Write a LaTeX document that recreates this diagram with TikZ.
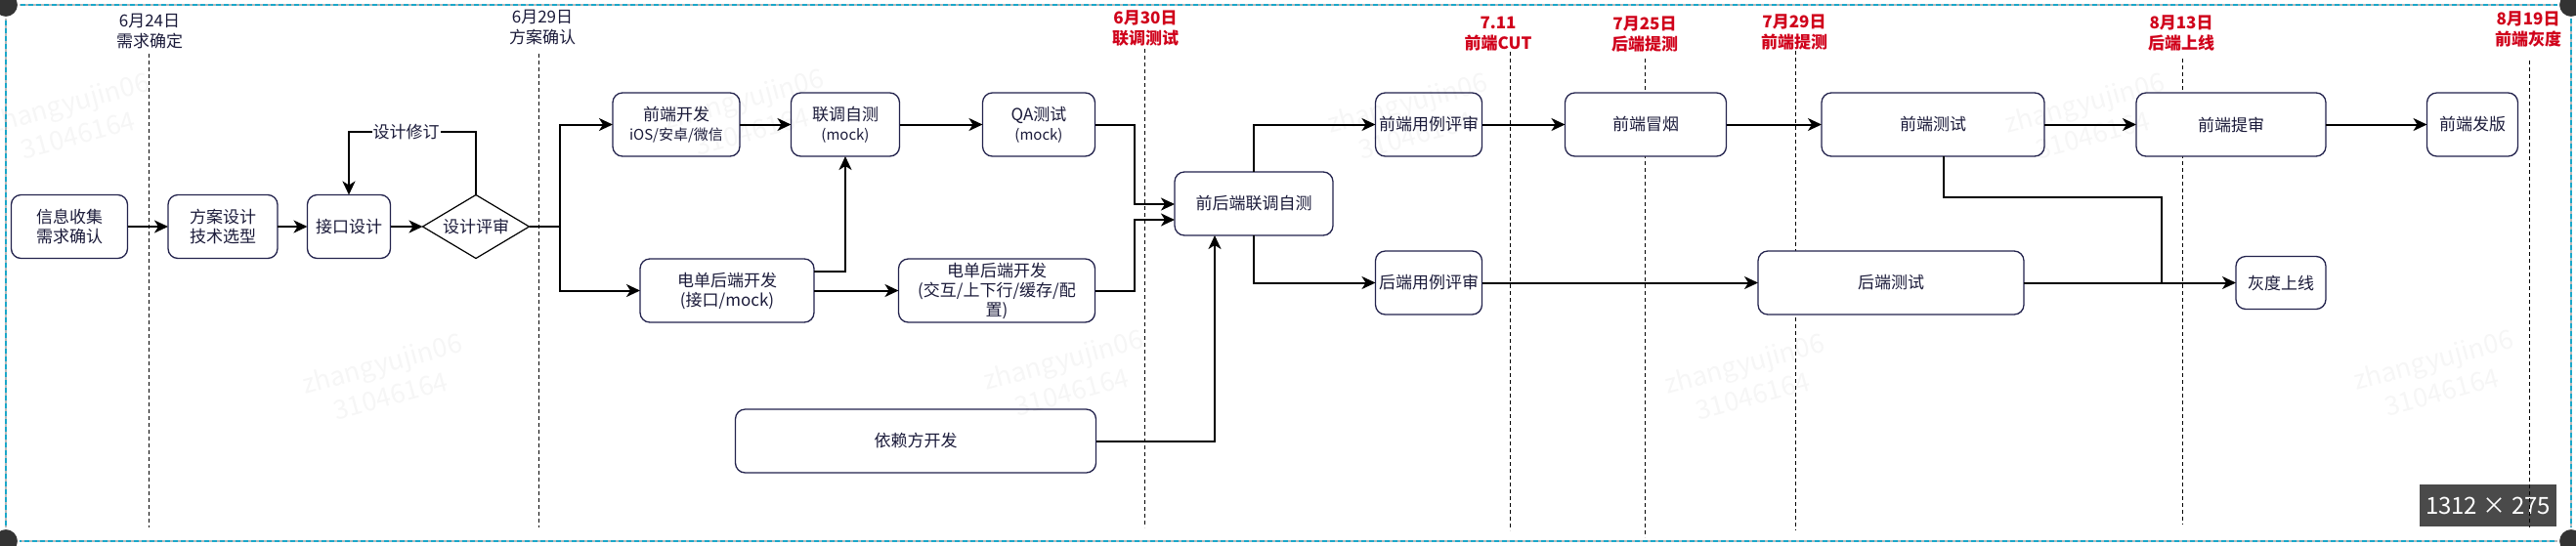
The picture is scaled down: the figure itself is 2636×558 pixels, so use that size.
\documentclass[tikz,border=0pt]{standalone}
\usepackage{fontspec}
\setmainfont{Noto Sans CJK SC}
\usetikzlibrary{arrows.meta}
\definecolor{ink}{HTML}{1B1B3A}
\definecolor{edge}{HTML}{23234D}
\definecolor{redd}{HTML}{D0021B}
\definecolor{cyanb}{HTML}{1AA7C9}
\definecolor{badgec}{HTML}{4A4A4A}
\newcommand{\smtxt}{\fontsize{15}{18}\selectfont}
\begin{document}
\begin{tikzpicture}[x=1pt,y=-1pt,
  font=\fontsize{17}{20}\selectfont,
  box/.style={draw=edge, line width=1.3pt, fill=white, rounded corners=10pt,
    minimum height=65pt, inner sep=0pt, outer sep=0pt, align=center, text=ink},
  arr/.style={line width=2pt, -{Stealth[length=14pt,width=13pt,inset=4pt]}},
  conn/.style={line width=2pt},
  tline/.style={line width=0.9pt, dash pattern=on 4pt off 3pt},
  datelbl/.style={align=center, text=ink, inner sep=0pt, font=\fontsize{17}{21}\selectfont},
  reddate/.style={datelbl, text=redd, font=\fontsize{17}{21}\selectfont\bfseries},
  lbl/.style={fill=white, inner sep=1pt, text=ink},
  wm/.style={align=center, rotate=15, text=black, opacity=0.035, font=\fontsize{27}{34}\selectfont}
]
\useasboundingbox (0,0) rectangle (2636,558);
\fill[white] (0,0) rectangle (2636,558);

% frame
\draw[gray!55, line width=2pt] (6,5) rectangle (2631,554);
\draw[cyanb, line width=2pt, dash pattern=on 5pt off 3pt] (6,5) rectangle (2631,554);

% badge
\node[fill=badgec, text=white, minimum width=140pt, minimum height=43pt, inner sep=0pt,
  font=\fontsize{24}{24}\selectfont] (badge) at (2546,517.5) {1312 × 275};

% date labels
\node[datelbl] (t1) at (153,32.5) {6月24日\\需求确定};
\node[datelbl] (t2) at (555,28.5) {6月29日\\方案确认};
\node[reddate] (t3) at (1172,29) {6月30日\\联调测试};
\node[reddate] (t4) at (1533,34.5) {7.11\\前端CUT};
\node[reddate] (t5) at (1683,34.5) {7月25日\\后端提测};
\node[reddate] (t6) at (1836,33) {7月29日\\前端提测};
\node[reddate] (t7) at (2232,34) {8月13日\\后端上线};
\node[reddate] (t8) at (2587,29.5) {8月19日\\前端灰度};

% timelines
\draw[tline] (152,55) -- (152,540);
\draw[tline] (551,55) -- (551,540);
\draw[tline] (1171,50) -- (1171,540);
\draw[tline] (1545,53) -- (1545,543);
\draw[tline] (1683,60) -- (1683,550);
\draw[tline] (1837,52) -- (1837,543);
\draw[tline] (2233,60) -- (2233,537);
\draw[tline] (2588,62) -- (2588,540);

% boxes
\node[box, minimum width=119pt] (n1) at (71,232) {信息收集\\需求确认};
\node[box, minimum width=112pt] (n2) at (228,232) {方案设计\\技术选型};
\node[box, minimum width=85pt] (n3) at (357,232) {接口设计};
\node[minimum width=109pt, minimum height=65pt, inner sep=0pt, outer sep=0pt, text=ink] (d) at (487,232) {设计评审};
\draw[line width=1.2pt] (d.west) -- (d.north) -- (d.east) -- (d.south) -- cycle;
\node[box, minimum width=130pt] (fe) at (692,127.5) {前端开发\\{\smtxt iOS/安卓/微信}};
\node[box, minimum width=111pt] (lt) at (865,127.5) {联调自测\\{\smtxt (mock)}};
\node[box, minimum width=115pt] (qa) at (1063,127.5) {QA测试\\{\smtxt (mock)}};
\node[box, minimum width=178pt] (be1) at (744,297.5) {电单后端开发\\(接口/mock)};
\node[box, minimum width=201pt] (be2) at (1020,297.5) {电单后端开发\\(交互/上下行/缓存/配\\置)};
\node[box, minimum width=162pt] (j) at (1283,208.5) {前后端联调自测};
\node[box, minimum width=109pt] (fr) at (1462,127.5) {前端用例评审};
\node[box, minimum width=109pt] (brv) at (1462,289.5) {后端用例评审};
\node[box, minimum width=165pt] (sm) at (1684,127.5) {前端冒烟};
\node[box, minimum width=228pt] (ft) at (1978,127.5) {前端测试};
\node[box, minimum width=272pt] (bt) at (1935,289.5) {后端测试};
\node[box, minimum width=194pt] (ps) at (2283,127.5) {前端提审};
\node[box, minimum width=93pt] (fv) at (2530,127.5) {前端发版};
\node[box, minimum width=92pt, minimum height=54pt] (gr) at (2334,289.5) {灰度上线};
\node[box, minimum width=369pt] (dep) at (937,451.5) {依赖方开发};

% connectors
\draw[arr] (n1.east) -- (n2.west);
\draw[arr] (n2.east) -- (n3.west);
\draw[arr] (n3.east) -- (d.west);
\coordinate (lp) at (487,135);
\coordinate (lq) at (357,135);
\draw[arr] (d.north) -- (lp) -- node[lbl, pos=0.55] (rev) {设计修订} (lq) -- (n3.north);
\coordinate (br) at (573,232);
\draw[conn] (d.east) -- (br);
\draw[arr] (br) |- (fe.west);
\draw[arr] (br) |- (be1.west);
\draw[arr] (fe.east) -- (lt.west);
\draw[arr] (lt.east) -- (qa.west);
\draw[arr] (be1.east) -- (be2.west);
\draw[arr] ([yshift=19.5pt]be1.east) -| (lt.south);
\coordinate (m1) at (1161,209);
\coordinate (m2) at (1161,225);
\draw[arr] (qa.east) -| (m1) -- (m1 -| j.west);
\draw[arr] (be2.east) -| (m2) -- (m2 -| j.west);
\draw[arr] (dep.east) -| ([xshift=-40pt]j.south);
\draw[arr] (j.north) |- (fr.west);
\draw[arr] (j.south) |- (brv.west);
\draw[arr] (fr.east) -- (sm.west);
\draw[arr] (sm.east) -- (ft.west);
\draw[arr] (ft.east) -- (ps.west);
\draw[arr] (ps.east) -- (fv.west);
\draw[arr] (brv.east) -- (bt.west);
\draw[arr] (bt.east) -- (gr.west);
\coordinate (m3) at (2212,202);
\draw[conn] ([xshift=11pt]ft.south) |- (m3) -- (m3 |- gr.west);

% watermarks
\node[wm] (w1) at (75,121) {zhangyujin06\\31046164};
\node[wm] (w2) at (765,117) {zhangyujin06\\31046164};
\node[wm] (w3) at (1444,121) {zhangyujin06\\31046164};
\node[wm] (w4) at (2137,121) {zhangyujin06\\31046164};
\node[wm] (w5) at (395,388) {zhangyujin06\\31046164};
\node[wm] (w6) at (1092,384) {zhangyujin06\\31046164};
\node[wm] (w7) at (1789,388) {zhangyujin06\\31046164};
\node[wm] (w8) at (2494,384) {zhangyujin06\\31046164};

% corner handles
\fill[black!80, draw=white, line width=2pt] (6,5) circle (13pt);
\fill[black!80, draw=white, line width=2pt] (2631,5) circle (13pt);
\fill[black!80, draw=white, line width=2pt] (6,554) circle (13pt);
\fill[black!80, draw=white, line width=2pt] (2631,554) circle (13pt);
\end{tikzpicture}
\end{document}
